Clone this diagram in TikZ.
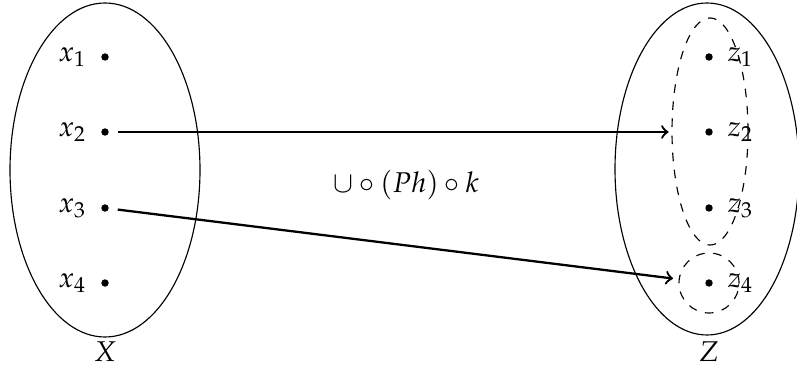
\documentclass[tikz,border=0pt]{standalone}
\usepackage{mathpazo}
\usetikzlibrary{shapes.geometric}
\begin{document}
\begin{tikzpicture}[x=0.35pt,y=-0.35pt,
  dot/.style={circle,fill,inner sep=0pt,minimum size=2.6pt},
  setell/.style={ellipse,draw,inner sep=0pt},
  subset/.style={ellipse,draw,dashed,inner sep=0pt},
  maparrow/.style={->,thick,shorten <=3pt}]
\useasboundingbox (0,0) rectangle (797,374);
% sets
\node[setell,minimum width=66.5pt,minimum height=116.9pt] (X) at (105,170) {};
\node[setell,minimum width=64.4pt,minimum height=116.2pt] (Z) at (707,169) {};
\node[subset,minimum width=26.6pt,minimum height=79.5pt] (S1) at (710,131.5) {};
\node[subset,minimum width=21pt,minimum height=21pt] (S2) at (709,283) {};
% points
\node[dot,label={[label distance=1.5pt]left:$x_1$}] (x1) at (105,57) {};
\node[dot,label={[label distance=1.5pt]left:$x_2$}] (x2) at (105,132) {};
\node[dot,label={[label distance=1.5pt]left:$x_3$}] (x3) at (105,208) {};
\node[dot,label={[label distance=1.5pt]left:$x_4$}] (x4) at (105,283) {};
\node[dot,label={[label distance=1.5pt]right:$z_1$}] (z1) at (709,57) {};
\node[dot,label={[label distance=1.5pt]right:$z_2$}] (z2) at (709,132) {};
\node[dot,label={[label distance=1.5pt]right:$z_3$}] (z3) at (709,208) {};
\node[dot,label={[label distance=1.5pt]right:$z_4$}] (z4) at (709,283) {};
% set names
\node (Xl) at (105,352) {$X$};
\node (Zl) at (709,352) {$Z$};
% map label
\node (m) at (406,185) {$\cup\circ(Ph)\circ k$};
% arrows
\draw[maparrow,shorten >=1pt] (x2) -- (S1.west |- x2);
\draw[maparrow,shorten >=2pt] (x3) -- (S2);
\end{tikzpicture}
\end{document}
